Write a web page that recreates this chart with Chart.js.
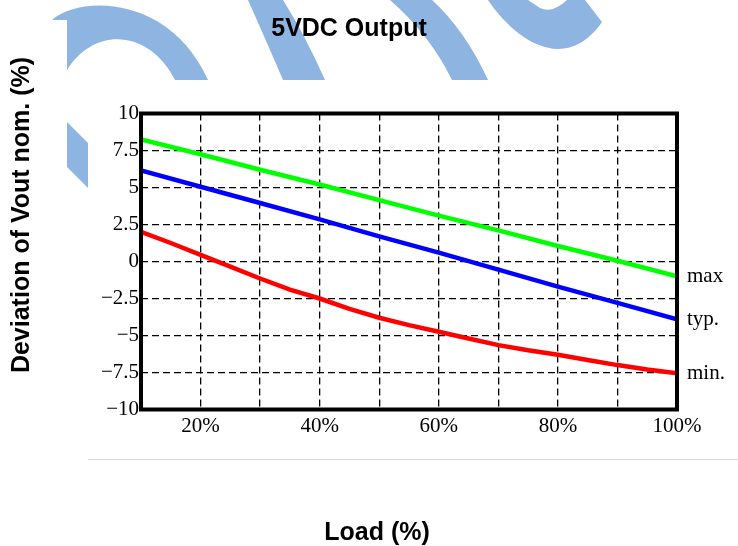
<!DOCTYPE html>
<html>
<head>
<meta charset="utf-8">
<script src="https://cdn.jsdelivr.net/npm/chart.js@4"></script>
<style>
  html, body { margin:0; padding:0; background:#fff; }
  #wrap { width:738px; height:546px; position:relative; }
</style>
</head>
<body>
<div id="wrap"><canvas id="outChart" width="738" height="546"></canvas></div>
<script>
// Load points (%) for max / typ curves
const loadPct = [10, 20, 30, 40, 50, 60, 70, 80, 90, 100];
// Deviation of Vout nom. (%)
const maxDev = [8.25, 7.25, 6.2, 5.2, 4.15, 3.1, 2.1, 1.05, 0.05, -1.0];
const typDev = [6.15, 5.05, 3.95, 2.85, 1.7, 0.6, -0.55, -1.7, -2.8, -3.9];
// min curve read at finer steps (it bends)
const minLoad = [10, 15, 20, 25, 30, 35, 40, 45, 50, 55, 60, 65, 70, 75, 80, 85, 90, 95, 100];
const minDev = [2.0, 1.25, 0.45, -0.35, -1.15, -1.9, -2.5, -3.2, -3.8, -4.3, -4.75, -5.2, -5.65, -6.0, -6.3, -6.65, -7.0, -7.3, -7.55];

const seriesNames = ['max', 'typ.', 'min.'];
const xTickLabels = [20, 40, 60, 80, 100];

const chartTitle = '5VDC Output';
const xTitle = 'Load (%)';
const yTitle = 'Deviation of Vout nom. (%)';

const tickFont = {family: '"Liberation Serif", serif', size: 21};
const boldFont = 'bold 25px "Liberation Sans", Arial, sans-serif';

function toPoints(xs, ys) {
    return xs.map((x, i) => ({x: x, y: ys[i]}));
}

// light blue watermark behind the chart image (decoration only)
const watermark = {
    id: 'watermark',
    beforeDraw(chart) {
        const ctx = chart.ctx;
        ctx.save();
        ctx.beginPath();
        ctx.rect(0, 0, 738, 80);
        ctx.rect(0, 80, 88, 466);
        ctx.clip();
        ctx.fillStyle = '#8eb4e1';

        ctx.beginPath();
        ctx.moveTo(52, 20);
        ctx.bezierCurveTo(80, -5, 170, -5, 208, 80);
        ctx.lineTo(175, 80);
        ctx.bezierCurveTo(150, 30, 95, 25, 67, 70);
        ctx.lineTo(67, 20);
        ctx.closePath();
        ctx.fill();

        ctx.beginPath();
        ctx.moveTo(67, 122); ctx.lineTo(88, 143); ctx.lineTo(88, 188); ctx.lineTo(67, 167);
        ctx.closePath();
        ctx.fill();

        ctx.beginPath();
        ctx.moveTo(248, 0);
        ctx.quadraticCurveTo(268, 45, 283, 80);
        ctx.lineTo(325, 80);
        ctx.quadraticCurveTo(305, 35, 283, 0);
        ctx.closePath();
        ctx.fill();

        ctx.beginPath();
        ctx.moveTo(390, 0);
        ctx.quadraticCurveTo(430, 35, 452, 80);
        ctx.lineTo(488, 80);
        ctx.quadraticCurveTo(465, 30, 432, 0);
        ctx.closePath();
        ctx.fill();

        ctx.beginPath();
        ctx.moveTo(488, 0);
        ctx.bezierCurveTo(515, 40, 565, 75, 602, 22);
        ctx.lineTo(585, 0);
        ctx.lineTo(567, 0);
        ctx.quadraticCurveTo(552, 14, 540, 8);
        ctx.lineTo(528, 0);
        ctx.closePath();
        ctx.fill();
        ctx.restore();

        // thin grey rule under the chart image
        ctx.save();
        ctx.strokeStyle = '#d9d9d9';
        ctx.lineWidth = 1;
        ctx.beginPath();
        ctx.moveTo(88, 459.5);
        ctx.lineTo(738, 459.5);
        ctx.stroke();
        ctx.restore();
    }
};

// thick frame + curve names at the right end
const frame = {
    id: 'frame',
    afterDatasetsDraw(chart) {
        const {ctx, chartArea: a, scales} = chart;
        ctx.save();
        ctx.strokeStyle = '#000';
        ctx.lineWidth = 4;
        ctx.strokeRect(a.left, a.top, a.right - a.left, a.bottom - a.top);

        ctx.fillStyle = '#000';
        ctx.font = '21px "Liberation Serif", serif';
        ctx.textBaseline = 'middle';
        ctx.textAlign = 'left';
        chart.data.datasets.forEach((ds, i) => {
            const last = ds.data[ds.data.length - 1];
            ctx.fillText(seriesNames[i], a.right + 10, scales.y.getPixelForValue(last.y));
        });
        ctx.restore();
    },
    afterDraw(chart) {
        const ctx = chart.ctx;
        ctx.save();
        ctx.fillStyle = '#000';
        ctx.font = boldFont;
        ctx.textAlign = 'center';
        ctx.textBaseline = 'middle';
        ctx.fillText(chartTitle, 349, 29);
        ctx.fillText(xTitle, 377, 533);
        ctx.translate(22, 215);
        ctx.rotate(-Math.PI / 2);
        ctx.fillText(yTitle, 0, 0);
        ctx.restore();
    }
};

Chart.defaults.color = '#000';

const ctx = document.getElementById('outChart').getContext('2d');
new Chart(ctx, {
    type: 'line',
    data: {
        datasets: [
            {label: seriesNames[0], data: toPoints(loadPct, maxDev), borderColor: '#00ff00'},
            {label: seriesNames[1], data: toPoints(loadPct, typDev), borderColor: '#0000ff'},
            {label: seriesNames[2], data: toPoints(minLoad, minDev), borderColor: '#ff0000'}
        ]
    },
    options: {
        responsive: false,
        animation: false,
        parsing: true,
        elements: {
            line: {borderWidth: 4.5, tension: 0, fill: false},
            point: {radius: 0}
        },
        layout: {padding: {top: 113.5, right: 61, left: 0, bottom: 0}},
        plugins: {legend: {display: false}, tooltip: {enabled: false}},
        scales: {
            x: {
                type: 'linear',
                min: 10, max: 100,
                ticks: {
                    stepSize: 10,
                    font: tickFont,
                    padding: 4,
                    maxRotation: 0,
                    autoSkip: false,
                    callback: v => xTickLabels.includes(v) ? v + '%' : ''
                },
                grid: {color: '#000', lineWidth: 1.3, drawTicks: false},
                border: {display: false, dash: [7, 4]},
                afterFit: s => { s.height = 546 - 409.5; }
            },
            y: {
                min: -10, max: 10,
                ticks: {
                    stepSize: 2.5,
                    font: tickFont,
                    padding: 2,
                    callback: v => (v < 0 ? '\u2212' + Math.abs(v) : String(v))
                },
                grid: {color: '#000', lineWidth: 1.3, drawTicks: false},
                border: {display: false, dash: [7, 4]},
                afterFit: s => { s.width = 141; }
            }
        }
    },
    plugins: [watermark, frame]
});
</script>
</body>
</html>
